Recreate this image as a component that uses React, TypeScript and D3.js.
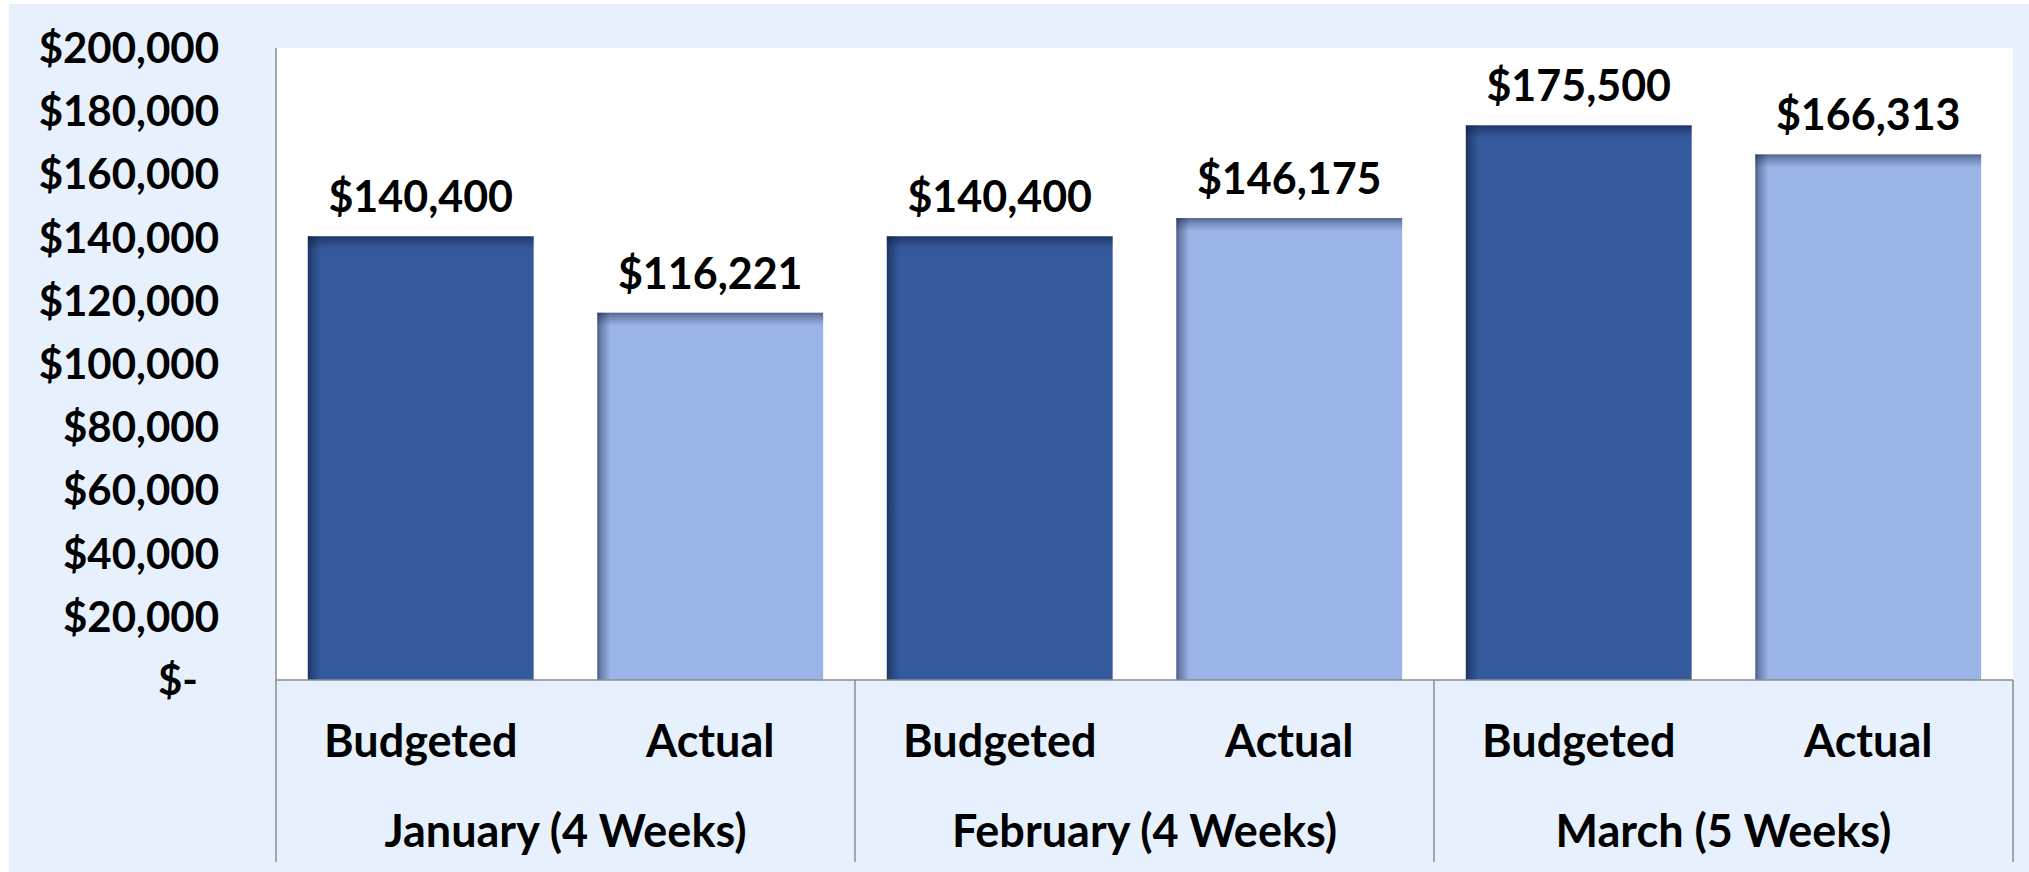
import React from 'react';
import * as d3 from 'd3';

const months = ['January (4 Weeks)', 'February (4 Weeks)', 'March (5 Weeks)'];
const seriesNames = ['Budgeted', 'Actual'];
const budgeted = [140400, 140400, 175500];
const actual = [116221, 146175, 166313];
const yMax = 200000;

const W = 2029;
const H = 872;
const plot = { left: 276, top: 48, right: 2013, bottom: 680 };
const FONT = 'Lato, "Open Sans", sans-serif';
const colors = { Budgeted: '#345A9D', Actual: '#9AB4E8' };

export default function App() {
    const rows = months.flatMap((m, i) => [
        { month: m, series: seriesNames[0], value: budgeted[i] },
        { month: m, series: seriesNames[1], value: actual[i] },
    ]);

    const y = d3.scaleLinear().domain([0, yMax]).range([plot.bottom, plot.top]);
    const xMonth = d3.scaleBand().domain(months).range([plot.left, plot.right]).padding(0);
    const xBar = d3.scaleBand()
        .domain(rows.map(r => r.month + '|' + r.series))
        .range([plot.left, plot.right])
        .paddingInner(0.22)
        .paddingOuter(0.11);

    const money = d3.format(',');
    const tickLabel = v => (v === 0 ? '$-' : '$' + money(v));
    const yTicks = y.ticks(10);
    const shade = 13;

    return (
        <svg width={W} height={H} style={{ position: 'absolute', left: 0, top: 0 }}>
            <defs>
                <linearGradient id="shadeLeft" x1="0" x2="1" y1="0" y2="0">
                    <stop offset="0" stopColor="#0a1430" stopOpacity="0.55" />
                    <stop offset="0.25" stopColor="#0a1430" stopOpacity="0.35" />
                    <stop offset="1" stopColor="#0a1430" stopOpacity="0" />
                </linearGradient>
                <linearGradient id="shadeTop" x1="0" x2="0" y1="0" y2="1">
                    <stop offset="0" stopColor="#0a1430" stopOpacity="0.5" />
                    <stop offset="0.3" stopColor="#0a1430" stopOpacity="0.3" />
                    <stop offset="1" stopColor="#0a1430" stopOpacity="0" />
                </linearGradient>
            </defs>
            <rect x={9} y={4} width={W - 9} height={H - 4} fill="#E6F1FD" />
            <rect x={plot.left} y={plot.top} width={plot.right - plot.left} height={plot.bottom - plot.top} fill="#ffffff" />

            {/* y tick labels */}
            {yTicks.map(t => (
                <text key={t} x={t === 0 ? 198 : 219} y={y(t) + 15} textAnchor="end"
                    fontFamily={FONT} fontWeight="bold" fontSize={42} fill="#000">
                    {tickLabel(t)}
                </text>
            ))}

            {/* bars */}
            {rows.map(r => {
                const bx = xBar(r.month + '|' + r.series);
                const bw = xBar.bandwidth();
                const by = y(r.value);
                const bh = y(0) - y(r.value);
                return (
                    <g key={r.month + r.series}>
                        <rect x={bx} y={by - 2} width={bw} height={2} fill="#ffffff" opacity={0.6} />
                        <rect x={bx} y={by} width={bw} height={bh} fill={colors[r.series]} />
                        <rect x={bx} y={by} width={shade} height={bh} fill="url(#shadeLeft)" />
                        <rect x={bx} y={by} width={bw} height={shade} fill="url(#shadeTop)" />
                        <text x={bx + bw / 2} y={by - 24} textAnchor="middle"
                            fontFamily={FONT} fontWeight="bold" fontSize={43} fill="#000">
                            {'$' + money(r.value)}
                        </text>
                    </g>
                );
            })}

            {/* axes */}
            <line x1={plot.left} x2={plot.left} y1={plot.top} y2={plot.bottom} stroke="#8c8c8c" strokeWidth={1.5} />
            <line x1={plot.left} x2={plot.right} y1={plot.bottom} y2={plot.bottom} stroke="#8c8c8c" strokeWidth={1.5} />
            {[...months.map(m => xMonth(m)), plot.right].map((sx, i) => (
                <line key={i} x1={sx} x2={sx} y1={plot.bottom} y2={862} stroke="#8c8c8c" strokeWidth={1.5} />
            ))}

            {/* category labels */}
            {rows.map(r => (
                <text key={'l' + r.month + r.series}
                    x={xBar(r.month + '|' + r.series) + xBar.bandwidth() / 2} y={757}
                    textAnchor="middle" fontFamily={FONT} fontWeight="bold" fontSize={45} fill="#000">
                    {r.series}
                </text>
            ))}
            {months.map(m => (
                <text key={'m' + m} x={xMonth(m) + xMonth.bandwidth() / 2} y={847}
                    textAnchor="middle" fontFamily={FONT} fontWeight="bold" fontSize={45} fill="#000">
                    {m}
                </text>
            ))}
        </svg>
    );
}
